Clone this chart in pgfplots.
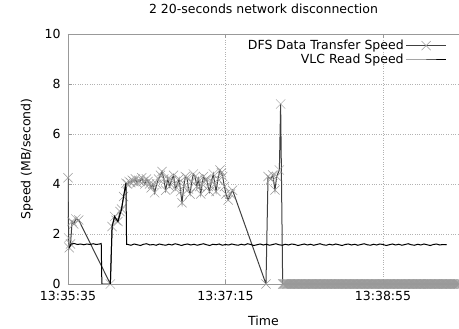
\documentclass[border=0pt]{standalone}
\usepackage{fontspec}
\setmainfont{DejaVu Sans}
\usepackage{pgfplots}
\pgfplotsset{compat=1.18}
\begin{document}
\fontsize{12.5bp}{15bp}\selectfont
\begin{tikzpicture}
\begin{axis}[
  at={(0,0)}, anchor=south west,
  scale only axis, width=391bp, height=250bp,
  xmin=0, xmax=248.25, ymin=0, ymax=10,
  axis y line*=left,
  axis line style={black!40, line width=0.6bp},
  xtick={0,100,200}, xticklabels={13:35:35,13:37:15,13:38:55},
  ytick={0,2,4,6,8,10}, yticklabels={0,2,4,6,8,10},
  tick style={black!40, line width=0.5bp}, tick align=inside, major tick length=4bp,
  xticklabel style={yshift=-3bp},
  yticklabel style={xshift=-3bp},
  grid=major, grid style={black!30, dotted, line width=0.5bp},
  clip mode=individual,
  title={2 20-seconds network disconnection},
  title style={at={(axis description cs:0.5,1.08)}, anchor=center, yshift=-1bp},
  xlabel={Time},
  xlabel style={at={(axis description cs:0.5,-0.148)}, anchor=center},
  ylabel={Speed (MB/second)},
  ylabel style={at={(axis description cs:-0.1049,0.5)}, anchor=center, rotate=0},
  legend style={draw=none, fill=none, at={(rel axis cs:0.969,0.985)}, anchor=north east,
    inner sep=0pt, row sep=-1bp, font=\fontsize{12.5bp}{15bp}\selectfont},
  legend plot pos=right, legend cell align=right,
  legend image code/.code={\draw[mark repeat=2,mark phase=2,#1] plot coordinates {(0bp,0bp) (20bp,0bp) (40bp,0bp)};},
]
\addplot[black!75, line width=1bp, mark=x, mark size=6.5bp,
  mark options={draw=black!40, line width=0.5bp, solid}] coordinates {
(0,4.25) (0.4,1.84) (0.8,1.45) (1.6,1.6) (2.6,2.5) (3.6,2.4) (5,2.6) (6.8,2.56)
(26.9,0) (28,2.3) (29.6,2.7) (30.5,2.55) (31.7,2.5) (33,2.9) (34,3.0) (35.3,3.5) (36.8,4.03)
(37.8,4.0) (38.8,4.1) (39.8,4.05) (40.8,4.15) (41.8,4.1) (42.8,4.2) (43.8,4.05) (44.8,4.15)
(45.8,4.1) (46.8,4.25) (47.8,4.1) (48.8,4.0) (49.8,4.2) (50.8,4.1) (51.8,4.0) (52.8,3.85)
(53.8,4.0) (55,3.65) (56.3,4.0) (57.5,4.2) (58.7,4.35) (59.7,4.5) (60.8,4.2) (62,3.75)
(63.3,4.2) (64.5,3.9) (65.7,4.15) (67,4.35) (68.2,3.8) (69.5,4.0) (70.5,4.2) (71.5,3.7)
(72.4,3.25) (73.5,3.9) (74.5,4.3) (75.5,4.25) (76.5,3.8) (77.5,3.6) (78.6,4.1) (79.6,4.4)
(80.7,4.3) (81.8,3.9) (82.8,4.2) (83.6,3.9) (84.3,3.6) (85.2,4.0) (86,4.3) (87,4.15)
(88,4.2) (89,3.9) (89.8,3.7) (91,4.1) (92.3,4.4) (93.2,4.0) (94,3.7) (95.2,4.2)
(96.5,4.56) (97.4,4.45) (98.2,4.3) (99.3,3.9) (100.3,3.6) (101.7,3.36) (103.2,3.6) (104.5,3.75)
(125.7,0) (127,4.3) (128.7,4.2) (130,4.36) (131.4,3.76) (132.5,4.3) (134.2,4.56) (135,7.2)
(136.3,0) (137,0) (137.5,0) (138,0) (138.5,0) (139,0) (139.5,0) (140,0) (140.5,0) (141,0) (141.5,0)
(142,0) (142.5,0) (143,0) (143.5,0) (144,0) (144.5,0) (145,0) (145.5,0) (146,0) (146.5,0)
(147,0) (147.5,0) (148,0) (148.5,0) (149,0) (149.5,0) (150,0) (150.5,0) (151,0) (151.5,0)
(152,0) (152.5,0) (153,0) (153.5,0) (154,0) (154.5,0) (155,0) (155.5,0) (156,0) (156.5,0)
(157,0) (157.5,0) (158,0) (158.5,0) (159,0) (159.5,0) (160,0) (160.5,0) (161,0) (161.5,0)
(162,0) (162.5,0) (163,0) (163.5,0) (164,0) (164.5,0) (165,0) (165.5,0) (166,0) (166.5,0)
(167,0) (167.5,0) (168,0) (168.5,0) (169,0) (169.5,0) (170,0) (170.5,0) (171,0) (171.5,0)
(172,0) (172.5,0) (173,0) (173.5,0) (174,0) (174.5,0) (175,0) (175.5,0) (176,0) (176.5,0)
(177,0) (177.5,0) (178,0) (178.5,0) (179,0) (179.5,0) (180,0) (180.5,0) (181,0) (181.5,0)
(182,0) (182.5,0) (183,0) (183.5,0) (184,0) (184.5,0) (185,0) (185.5,0) (186,0) (186.5,0)
(187,0) (187.5,0) (188,0) (188.5,0) (189,0) (189.5,0) (190,0) (190.5,0) (191,0) (191.5,0)
(192,0) (192.5,0) (193,0) (193.5,0) (194,0) (194.5,0) (195,0) (195.5,0) (196,0) (196.5,0)
(197,0) (197.5,0) (198,0) (198.5,0) (199,0) (199.5,0) (200,0) (200.5,0) (201,0) (201.5,0)
(202,0) (202.5,0) (203,0) (203.5,0) (204,0) (204.5,0) (205,0) (205.5,0) (206,0) (206.5,0)
(207,0) (207.5,0) (208,0) (208.5,0) (209,0) (209.5,0) (210,0) (210.5,0) (211,0) (211.5,0)
(212,0) (212.5,0) (213,0) (213.5,0) (214,0) (214.5,0) (215,0) (215.5,0) (216,0) (216.5,0)
(217,0) (217.5,0) (218,0) (218.5,0) (219,0) (219.5,0) (220,0) (220.5,0) (221,0) (221.5,0)
(222,0) (222.5,0) (223,0) (223.5,0) (224,0) (224.5,0) (225,0) (225.5,0) (226,0) (226.5,0)
(227,0) (227.5,0) (228,0) (228.5,0) (229,0) (229.5,0) (230,0) (230.5,0) (231,0) (231.5,0)
(232,0) (232.5,0) (233,0) (233.5,0) (234,0) (234.5,0) (235,0) (235.5,0) (236,0) (236.5,0)
(237,0) (237.5,0) (238,0) (238.5,0) (239,0) (239.5,0) (240,0) (240.5,0) (241,0) (241.5,0)
(242,0) (242.5,0) (243,0) (243.5,0) (244,0) (244.5,0) (245,0) (245.5,0) (246,0) (246.5,0)
(247,0) (247.5,0) (248,0) (248.25,0)
};
\addlegendentry{DFS Data Transfer Speed}
\addplot[black, line width=1bp] coordinates {
(0.8,1.45) (2,1.6) (4,1.62) (6,1.58) (8,1.6) (10,1.57) (12,1.6) (14,1.58) (16,1.61)
(18,1.58) (20,1.6) (21.1,1.62) (21.5,0) (26.9,0) (28,2.3) (29.6,2.7) (31.7,2.5)
(33.9,2.96) (35.3,3.5) (36.8,4.03) (37.2,1.58)
(38,1.58) (40,1.55) (42,1.60) (44,1.57) (46,1.54) (48,1.59) (50,1.61) (52,1.56) (54,1.58) (56,1.55)
(58,1.60) (60,1.57) (62,1.55) (64,1.59) (66,1.56) (68,1.61) (70,1.58) (72,1.54) (74,1.58) (76,1.60)
(78,1.56) (80,1.59) (82,1.55) (84,1.58) (86,1.61) (88,1.57) (90,1.54) (92,1.59) (94,1.57) (96,1.60)
(98,1.55) (100,1.58) (102,1.56) (104,1.60) (106,1.57) (108,1.55) (110,1.59) (112,1.56) (114,1.61) (116,1.58)
(118,1.54) (120,1.57) (122,1.60) (124,1.56) (126,1.59) (128,1.55) (130,1.58) (132,1.61) (134,1.57) (136,1.55)
(138,1.59) (140,1.56) (142,1.60) (144,1.58) (146,1.54) (148,1.57) (150,1.60) (152,1.56) (154,1.59) (156,1.55)
(158,1.58) (160,1.61) (162,1.57) (164,1.55) (166,1.59) (168,1.56) (170,1.60) (172,1.57) (174,1.54) (176,1.58)
(178,1.60) (180,1.56) (182,1.59) (184,1.55) (186,1.58) (188,1.61) (190,1.57) (192,1.55) (194,1.59) (196,1.56)
(198,1.60) (200,1.58) (202,1.54) (204,1.57) (206,1.60) (208,1.56) (210,1.59) (212,1.55) (214,1.58) (216,1.61)
(218,1.57) (220,1.55) (222,1.59) (224,1.56) (226,1.60) (228,1.57) (230,1.54) (232,1.58) (234,1.60) (236,1.56)
(238,1.58) (240,1.57) (240.4,1.58)
};
\addlegendentry{VLC Read Speed}
\end{axis}
\pgfresetboundingbox
\path[use as bounding box] (-68bp,-45bp) rectangle (391bp,284bp);
\end{tikzpicture}
\end{document}
